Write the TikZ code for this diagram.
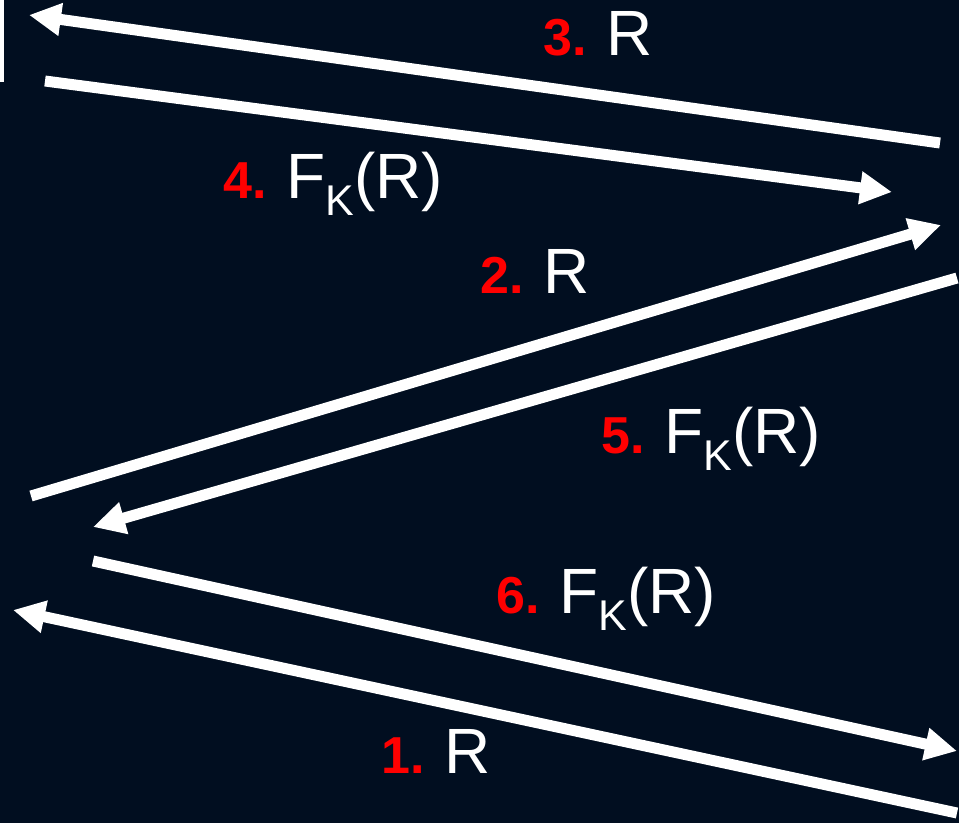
\documentclass[tikz,border=0pt]{standalone}
\usepackage{fontspec}
\setmainfont{Liberation Sans}
\usetikzlibrary{arrows.meta}
\definecolor{bgNavy}{RGB}{1,14,32}
\definecolor{numRed}{RGB}{255,0,0}
\newcommand{\stepnum}[1]{{\fontsize{52}{52}\selectfont\bfseries\color{numRed}#1}\hspace{20pt}}
\newcommand{\fofr}{F\raisebox{-17pt}{\fontsize{43}{43}\selectfont K}(R)}

\begin{document}
\begin{tikzpicture}[x=1pt,y=-1pt,
      arr/.style={-{Triangle[length=32pt,width=31pt]},line width=11pt,white},
      lbl/.style={anchor=base west,inner sep=0pt,text=white,
                  font=\fontsize{64}{64}\selectfont}]
    \fill[bgNavy] (0,0) rectangle (959,823);
    \useasboundingbox (0,0) rectangle (959,823);
    \fill[white] (0,0) rectangle (4,82);
    % end points of the six messages
    \coordinate (s1) at (957,813); \coordinate (e1) at (13,610);
    \coordinate (s2) at (31,496);  \coordinate (e2) at (941,225);
    \coordinate (s3) at (940,143); \coordinate (e3) at (29,15);
    \coordinate (s4) at (45,81);   \coordinate (e4) at (892,192);
    \coordinate (s5) at (957,278); \coordinate (e5) at (93,527);
    \coordinate (s6) at (93,561);  \coordinate (e6) at (957,751);
    \foreach \i in {1,...,6}
      \draw[arr] (s\i) -- (e\i);
    % labels
    \node[lbl] (l1) at (381,773) {\stepnum{1.}R};
    \node[lbl] (l2) at (480,293) {\stepnum{2.}R};
    \node[lbl] (l3) at (543,55)  {\stepnum{3.}R};
    \node[lbl] (l4) at (223,198) {\stepnum{4.}\fofr};
    \node[lbl] (l5) at (601,453) {\stepnum{5.}\fofr};
    \node[lbl] (l6) at (496,613) {\stepnum{6.}\fofr};
  \end{tikzpicture}
\end{document}
